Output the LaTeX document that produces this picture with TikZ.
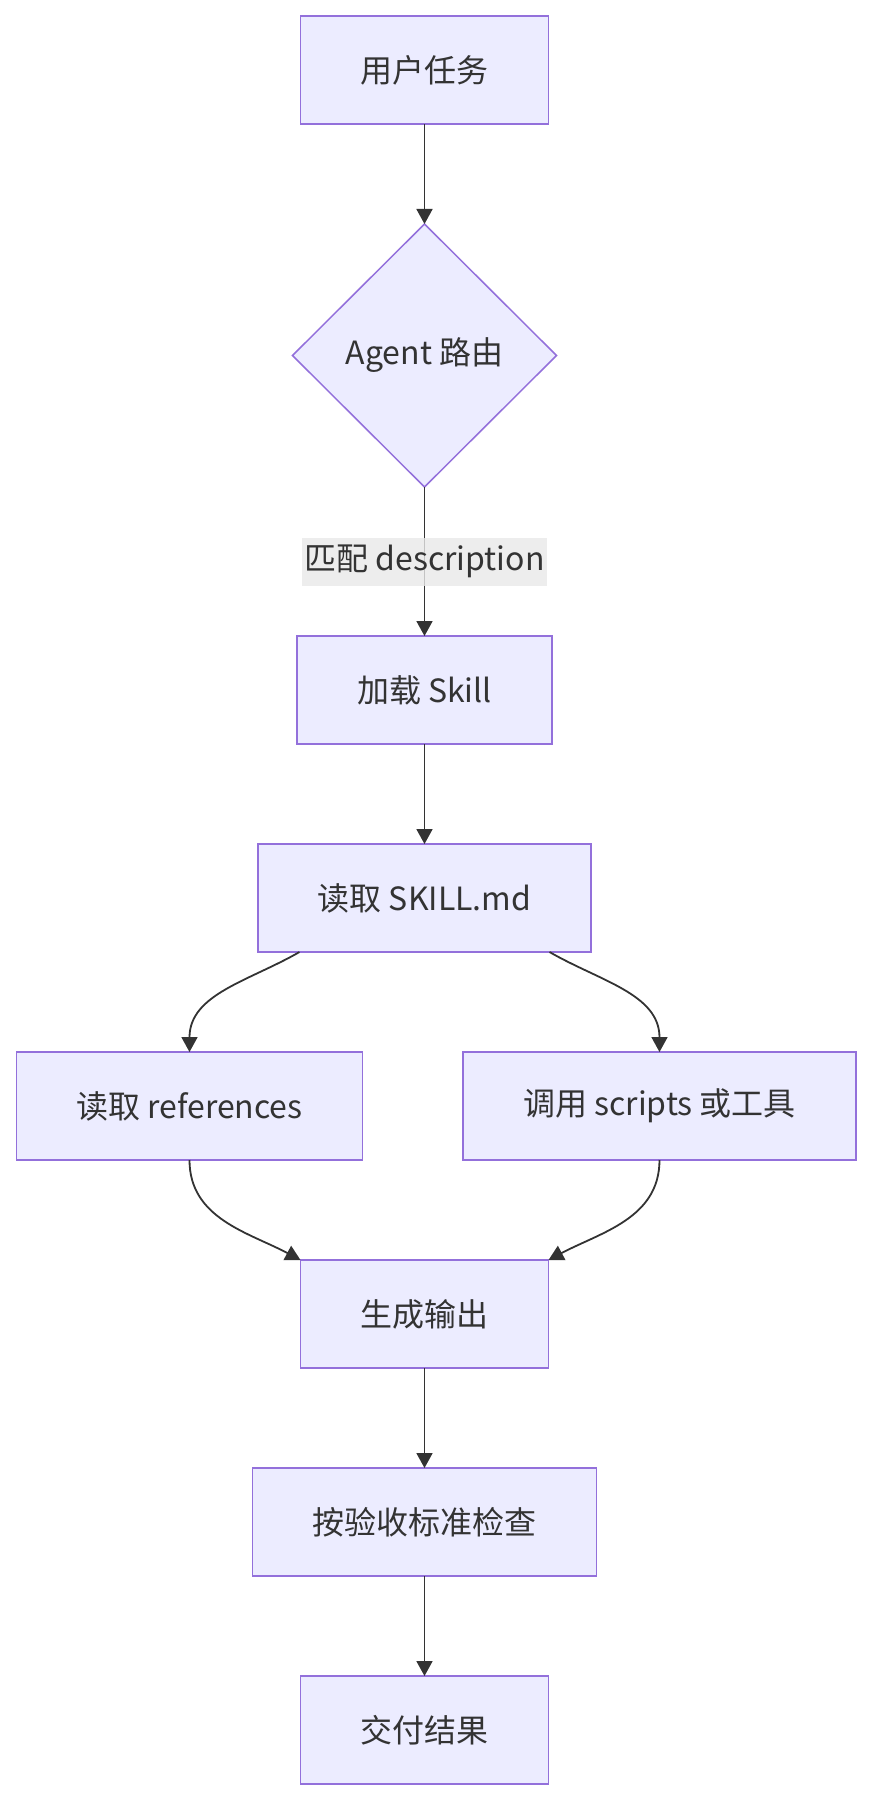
\documentclass[tikz,border=0pt]{standalone}
\usepackage{fontspec}
\setmainfont{Noto Sans CJK SC}
\usetikzlibrary{arrows.meta,positioning,calc,shapes.geometric}
\definecolor{nodefill}{HTML}{ECECFF}
\definecolor{nodeline}{HTML}{9370DB}
\definecolor{edgeline}{HTML}{333333}
\definecolor{labelfill}{HTML}{E8E8E8}

\begin{document}
\begin{tikzpicture}[
  font=\fontsize{32}{38}\selectfont,
  text=edgeline,
  box/.style={
    draw=nodeline,
    fill=nodefill,
    line width=1.5pt,
    align=center,
    minimum height=108pt,
    inner xsep=60pt,
    inner ysep=0pt,
    outer sep=0pt
  },
  decision/.style={
    diamond,
    draw=nodeline,
    fill=nodefill,
    line width=1.5pt,
    minimum width=264pt,
    minimum height=263pt,
    inner sep=0pt,
    outer sep=0pt
  },
  edgelabel/.style={fill=labelfill, fill opacity=0.8, text opacity=1, inner xsep=2pt, inner ysep=0pt, minimum height=48pt},
  arrow/.style={-{Triangle[width=16pt,length=15pt]}, line width=1.8pt, draw=edgeline}
]
\useasboundingbox (0,0) rectangle (871pt,-1800pt);

\node[box] (task) at (424.5pt,-70pt) {用户任务};
\node[decision, below=100pt of task] (route) {Agent 路由};
\node[box, below=149pt of route] (load) {加载 Skill};
\node[box, below=100pt of load] (readskill) {读取 SKILL.md};

\node[box, below=100pt of readskill, xshift=-235pt] (readref) {读取 references};
\node[box, below=100pt of readskill, xshift=235pt] (callscript) {调用 scripts 或工具};

\node[box, below=308pt of readskill] (output) {生成输出};
\node[box, below=100pt of output] (check) {按验收标准检查};
\node[box, below=100pt of check] (deliver) {交付结果};

\draw[arrow] (task) -- (route);
\draw[arrow] (route) -- node[edgelabel] {匹配 description} (load);
\draw[arrow] (load) -- (readskill);
\draw[arrow] ($(readskill.south west)!0.125!(readskill.south east)$) to[out=-150, in=90] (readref.north);
\draw[arrow] ($(readskill.south west)!0.875!(readskill.south east)$) to[out=-30, in=90] (callscript.north);
\draw[arrow] (readref.south) to[out=-90, in=152] (output.north west);
\draw[arrow] (callscript.south) to[out=-90, in=28] (output.north east);
\draw[arrow] (output) -- (check);
\draw[arrow] (check) -- (deliver);
\end{tikzpicture}
\end{document}
